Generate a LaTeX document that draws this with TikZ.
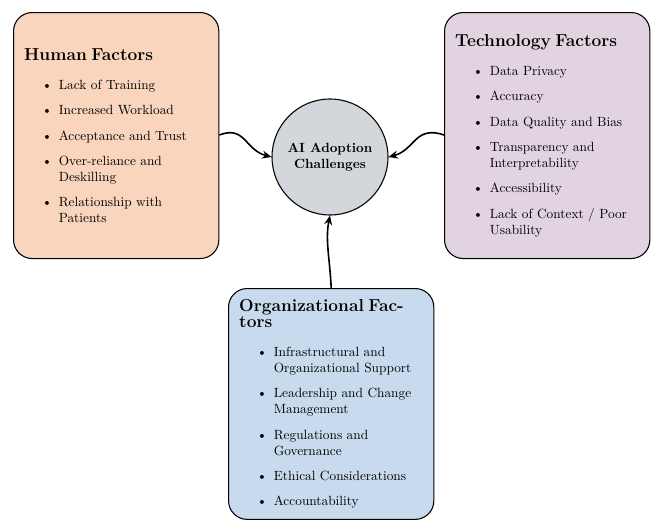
\documentclass[tikz,border=0pt]{standalone}
\usepackage{tikz}
\usepackage{enumitem}
\usetikzlibrary{arrows.meta}
\definecolor{humanfill}{HTML}{F8D5BC}
\definecolor{techfill}{HTML}{E2D3E0}
\definecolor{orgfill}{HTML}{C8DBEE}
\definecolor{corefill}{HTML}{D3D7DB}
\tikzset{
	factorbox/.style={draw, thick, rounded corners=14pt, text width=138pt, inner sep=8pt, anchor=north west, align=left, font=\normalsize},
	link/.style={very thick, -{Stealth[length=7pt,width=6pt]}}
}
\newcommand{\factorlist}[2]{{\fontsize{13}{15}\selectfont\bfseries #1}\par
	\begin{itemize}[leftmargin=26pt, itemsep=7pt, topsep=8pt, parsep=0pt]#2\end{itemize}}
\begin{document}
\begin{tikzpicture}[x=0.75pt,y=-0.75pt]
	\useasboundingbox (0,0) rectangle (660,529);
	\node [factorbox, fill=humanfill, minimum height=184.5pt] (human) at (13,12) {\factorlist{Human Factors}{
		\item Lack of Training
		\item Increased Workload
		\item Acceptance and Trust
		\item Over-reliance and Deskilling
		\item Relationship with Patients}};
	\node [factorbox, fill=techfill, minimum height=184.5pt] (tech) at (444,12) {\factorlist{Technology Factors}{
		\item Data Privacy
		\item Accuracy
		\item Data Quality and Bias
		\item Transparency and Interpretability
		\item Accessibility
		\item Lack of Context / Poor Usability}};
	\node [factorbox, fill=orgfill, minimum height=171pt] (org) at (228,288) {\factorlist{Organizational Factors}{
		\item Infrastructural and Organizational Support
		\item Leadership and Change Management
		\item Regulations and Governance
		\item Ethical Considerations
		\item Accountability}};
	\node [draw, thick, circle, fill=corefill, minimum size=87pt, align=center, font=\bfseries] (core) at (330,157) {AI Adoption\\Challenges};
	\draw [link] (human.east |- 0,135) .. controls (245,125) and (245,150) .. (core.west);
	\draw [link] (tech.west |- 0,135) .. controls (415,125) and (415,150) .. (core.east);
	\draw [link] (org.north) .. controls (330,260) and (325,240) .. (core.south);
\end{tikzpicture}
\end{document}
